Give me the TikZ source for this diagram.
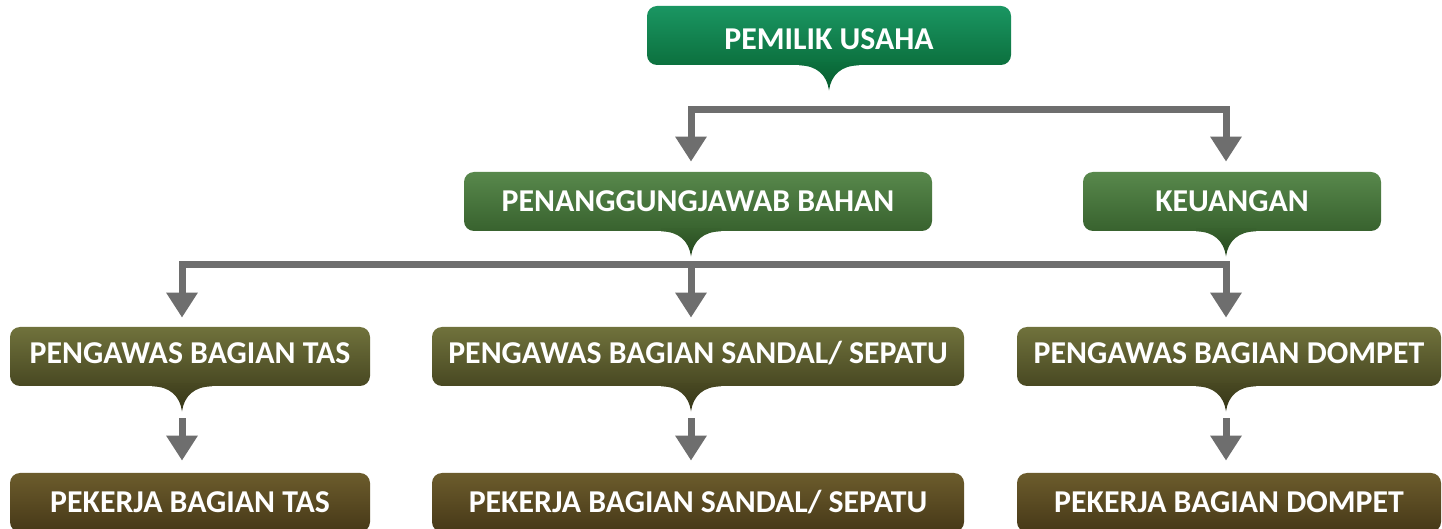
\documentclass[tikz,border=0pt]{standalone}
\usepackage{fontspec}
\setmainfont{Carlito}
\usetikzlibrary{arrows.meta}

% level colours: box top / box bottom / tail bottom
\definecolor{ownA}{RGB}{26,150,98}
\definecolor{ownB}{RGB}{12,112,62}
\definecolor{ownC}{RGB}{8,92,46}
\definecolor{midA}{RGB}{88,136,76}
\definecolor{midB}{RGB}{56,98,46}
\definecolor{midC}{RGB}{38,72,30}
\definecolor{supA}{RGB}{112,114,60}
\definecolor{supB}{RGB}{72,72,34}
\definecolor{supC}{RGB}{54,54,24}
\definecolor{wrkA}{RGB}{108,92,44}
\definecolor{wrkB}{RGB}{70,56,24}
\definecolor{linegray}{RGB}{110,110,110}

\tikzset{
  box/.style={rounded corners=5pt, inner sep=0pt, text=white,
    font=\bfseries\fontsize{15.9}{18}\selectfont,
    text height=10pt, text depth=0pt},
  arr/.style={draw=linegray, line width=3.5pt, line join=miter,
    -{Triangle[width=15pt,length=12.5pt]}},
}

% downward tail under a box (shifted sideways by #4), with a named tip coordinate
\newcommand\boxtail[4]{%
  \begin{scope}[shift={([xshift=#4]#1.south)}]
    \shade[top color=#2, bottom color=#3]
      (-30,-3) -- (30,-3) -- (30,0)
      .. controls (12,0) and (2,10) .. (0,25)
      .. controls (-2,10) and (-12,0) .. (-30,0) -- cycle;
    \coordinate (#1tip) at (0,25);
  \end{scope}}

\begin{document}
\begin{tikzpicture}[x=0.5pt,y=-0.5pt]
\useasboundingbox[fill=white] (0,0) rectangle (1442,529);

% owner
\node[box, top color=ownA, bottom color=ownB, text height=14pt,
  minimum width=182pt, minimum height=29.5pt] (own) at (829,35.5) {PEMILIK USAHA};
\boxtail{own}{ownB}{ownC}{0pt}

% second level
\node[box, top color=midA, bottom color=midB,
  minimum width=234pt, minimum height=29.5pt] (bhn) at (698,201.5) {PENANGGUNGJAWAB BAHAN};
\boxtail{bhn}{midB}{midC}{-3.5pt}
\node[box, top color=midA, bottom color=midB,
  minimum width=149pt, minimum height=29.5pt] (keu) at (1232,201.5) {KEUANGAN};
\boxtail{keu}{midB}{midC}{-3pt}

% supervisors
\node[box, top color=supA, bottom color=supB, text depth=2.5pt,
  minimum width=180pt, minimum height=29.5pt] (tas) at (190,356.5) {PENGAWAS BAGIAN TAS};
\boxtail{tas}{supB}{supC}{-4pt}
\node[box, top color=supA, bottom color=supB, text depth=2.5pt,
  minimum width=266pt, minimum height=29.5pt] (snd) at (698,356.5) {PENGAWAS BAGIAN SANDAL/ SEPATU};
\boxtail{snd}{supB}{supC}{-3.5pt}
\node[box, top color=supA, bottom color=supB, text depth=2.5pt,
  minimum width=212pt, minimum height=29.5pt] (dom) at (1229,356.5) {PENGAWAS BAGIAN DOMPET};
\boxtail{dom}{supB}{supC}{-1.5pt}

% workers
\node[box, top color=wrkA, bottom color=wrkB,
  minimum width=180pt, minimum height=29.5pt] (wtas) at (190,502.5) {PEKERJA BAGIAN TAS};
\node[box, top color=wrkA, bottom color=wrkB,
  minimum width=266pt, minimum height=29.5pt] (wsnd) at (698,502.5) {PEKERJA BAGIAN SANDAL/ SEPATU};
\node[box, top color=wrkA, bottom color=wrkB,
  minimum width=212pt, minimum height=29.5pt] (wdom) at (1229,502.5) {PEKERJA BAGIAN DOMPET};

% connectors
\coordinate (j1) at (829,110);
\coordinate (j2) at (691,265);
\draw[arr, shorten >=5pt] (j1) -| (bhn.north -| bhntip);
\draw[arr, shorten >=5pt] (j1) -| (keu.north -| keutip);
\draw[arr, shorten >=4.5pt] (j2) -| (tas.north -| tastip);
\draw[arr, shorten >=4.5pt] (j2) -- (snd.north -| sndtip);
\draw[arr, shorten >=4.5pt] (j2) -| (dom.north -| domtip);
\draw[arr, shorten <=3.5pt, shorten >=6pt] (tastip) -- (tastip |- wtas.north);
\draw[arr, shorten <=3.5pt, shorten >=6pt] (sndtip) -- (sndtip |- wsnd.north);
\draw[arr, shorten <=3.5pt, shorten >=6pt] (domtip) -- (domtip |- wdom.north);
\end{tikzpicture}
\end{document}
